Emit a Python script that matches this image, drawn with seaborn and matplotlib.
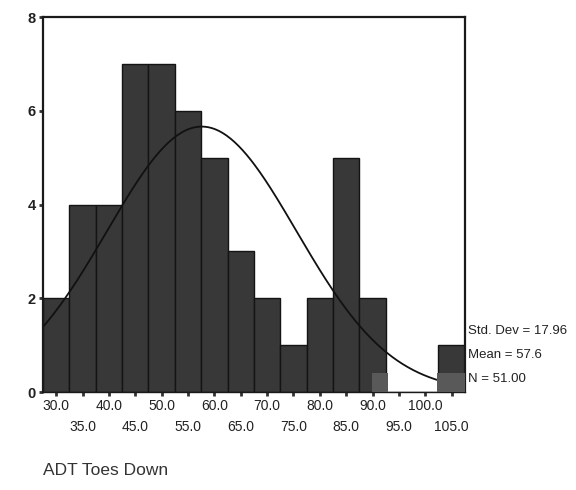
import numpy as np
import pandas as pd
import matplotlib
matplotlib.use("Agg")
import matplotlib.pyplot as plt
import seaborn as sns

# ---- data ----
bin_centers = [30, 35, 40, 45, 50, 55, 60, 65, 70, 75, 80, 85, 90, 95, 100, 105]
counts      = [2, 4, 4, 7, 7, 6, 5, 3, 2, 1, 2, 5, 2, 0, 0, 1]
bin_width = 5.0
stat_mean = 57.6
stat_sd = 17.96
stat_n = 51
x_ticks_row1 = [30, 40, 50, 60, 70, 80, 90, 100]
x_ticks_row2 = [35, 45, 55, 65, 75, 85, 95, 105]
y_ticks = [0, 2, 4, 6, 8]
x_title = "ADT Toes Down"

sns.set_theme(style="white")
plt.rcParams['font.family'] = ['Liberation Sans', 'DejaVu Sans']

fig = plt.figure(figsize=(5.76, 4.9), dpi=100)
ax = fig.add_axes([0.0747, 0.2, 0.7323, 0.765])

df = pd.DataFrame({"x": bin_centers, "n": counts})
lo = bin_centers[0] - bin_width / 2
hi = bin_centers[-1] + bin_width / 2
sns.histplot(data=df, x="x", weights="n", binwidth=bin_width, binrange=(lo, hi), ax=ax,
             color="#383838", edgecolor="#141414", linewidth=1.0, alpha=1.0)

# fitted normal curve from the reported statistics
xs = np.linspace(lo, hi - bin_width, 300)
ys = stat_n * bin_width / (stat_sd * np.sqrt(2 * np.pi)) * np.exp(-0.5 * ((xs - stat_mean) / stat_sd) ** 2)
sns.lineplot(x=xs, y=ys, ax=ax, color="#111111", linewidth=1.3)

# scan artifacts (gray blocks near the baseline)
ax.add_patch(plt.Rectangle((89.9, 0), 3.1, 0.4, color="#595959", zorder=5, lw=0))
ax.add_patch(plt.Rectangle((102.3, 0), 5.4, 0.4, color="#595959", zorder=5, lw=0))

ax.set_xlim(lo, hi)
ax.set_ylim(0, 8)
ax.set_xticks(x_ticks_row1)
ax.set_xticklabels([f"{v:.1f}" for v in x_ticks_row1], fontsize=10, color="#222222")
ax.set_xticks(x_ticks_row2, minor=True)
ax.set_xticklabels([f"{v:.1f}" for v in x_ticks_row2], minor=True, fontsize=10, color="#222222")
ax.set_yticks(y_ticks)
ax.set_yticklabels([str(v) for v in y_ticks], fontsize=10.5, color="#222222", fontweight="bold")
ax.tick_params(axis="both", which="both", length=3, width=2, color="#333333", pad=2,
               bottom=True, left=True)
ax.tick_params(axis="x", which="minor", pad=17)
ax.set_xlabel("")
ax.set_ylabel("")
for s in ax.spines.values():
    s.set_visible(True)
    s.set_color("#1a1a1a")
    s.set_linewidth(1.6)
ax.spines["bottom"].set_linewidth(1.0)

# statistics box text
tx = 1.007
ax.text(tx, 0.162, f"Std. Dev = {stat_sd:.2f}", transform=ax.transAxes, fontsize=9.5,
        color="#222222", va="center", ha="left")
ax.text(tx, 0.098, f"Mean = {stat_mean:.1f}", transform=ax.transAxes, fontsize=9.5,
        color="#222222", va="center", ha="left")
ax.text(tx, 0.034, f"N = {stat_n:.2f}", transform=ax.transAxes, fontsize=9.5,
        color="#222222", va="center", ha="left")

fig.text(0.0747, 0.04, x_title, fontsize=12.5, color="#333333", ha="left", va="center")

fig.savefig("out.png", dpi=100, facecolor="white")
